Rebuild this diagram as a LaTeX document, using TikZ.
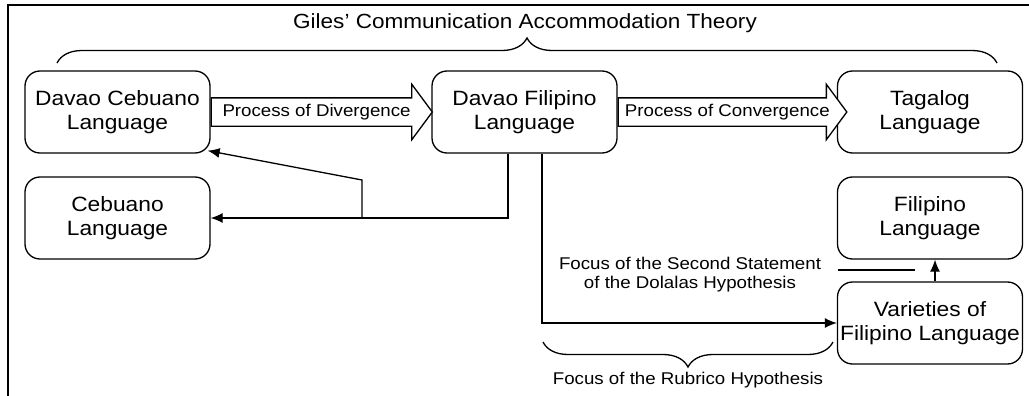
\documentclass[tikz,border=0pt]{standalone}
\usepackage{fontspec}
\setmainfont{Liberation Sans}[FakeStretch=1.1]
\usepackage{tikz}
\usetikzlibrary{arrows.meta}
\usetikzlibrary{positioning}
\usetikzlibrary{shapes.arrows}
\usetikzlibrary{decorations.pathreplacing}
\tikzstyle{every node}+=[inner sep=0pt]
\tikzstyle{block} = [rectangle, draw, line width=1.3pt, font=\fontsize{20.7}{23.5}\selectfont, align=center, rounded corners=15pt, minimum width=185pt, minimum height=82pt]
\tikzstyle{line} = [draw, line width=1.3pt, -{Latex[length=12pt,width=10pt]}]
\tikzstyle{process} = [single arrow, draw, fill=white, line width=1.3pt, font=\fontsize{17}{18}\selectfont, single arrow head extend=13.5pt, single arrow tip angle=107, text height=11pt, text depth=3pt, inner ysep=6.5pt, inner xsep=6pt]
\tikzstyle{note} = [font=\fontsize{17}{19}\selectfont, align=center]
\tikzstyle{curly} = [decorate, decoration={brace, amplitude=25pt}, line width=1.3pt]

\begin{document}
\begin{tikzpicture}[x=1pt, y=1pt]
            \useasboundingbox (0,0) rectangle (1029,-396);
            \draw [line width=2.5pt] (8,-396) -- (8,-5) -- (1029,-5);
            % Place nodes
            \node [block] (dc) at (117.5,-112) {Davao Cebuano\\Language};
            \node [block, right of=dc, node distance=407pt] (df) {Davao Filipino\\Language};
            \node [block, right of=df, node distance=405.5pt] (tg) {Tagalog\\Language};
            \node [block, below of=dc, node distance=106pt] (cb) {Cebuano\\Language};
            \node [block, below of=tg, node distance=106pt] (fl) {Filipino\\Language};
            \node [block, below of=fl, node distance=105pt] (vf) {Varieties of\\Filipino Language};
            \node [process, anchor=west, minimum height=221pt] (div) at (dc.east) {Process of Divergence};
            \node [process, anchor=west, minimum height=220pt] (conv) at (df.east) {Process of Convergence};
            \node [font=\fontsize{20.5}{23}\selectfont] (giles) at (525,-23) {Giles’ Communication Accommodation Theory};
            \node [note] (dol) at (690,-275) {Focus of the Second Statement\\of the Dolalas Hypothesis};
            \node [note] (rub) at (688,-380) {Focus of the Rubrico Hypothesis};
            \coordinate (jn) at (362,-218);
            \coordinate (dolend) at (838,-270);
            % Draw braces
            \draw [curly] (57,-63) -- (997,-63);
            \draw [curly] (833,-342) -- (543,-342);
            % Draw edges
            \path [line] ([xshift=-16.5pt]df.south) |- (cb.east);
            \path [line] (jn) -- ++(0,38) -- ([xshift=-3pt,yshift=3pt]dc.south east);
            \path [line] ([xshift=17.5pt]df.south) |- (vf.west);
            \path [line] ([xshift=5pt]vf.north) -- ([xshift=5pt]fl.south);
            \draw [line width=1.3pt] (dolend) -- ++(77,0);
          \end{tikzpicture}
\end{document}
